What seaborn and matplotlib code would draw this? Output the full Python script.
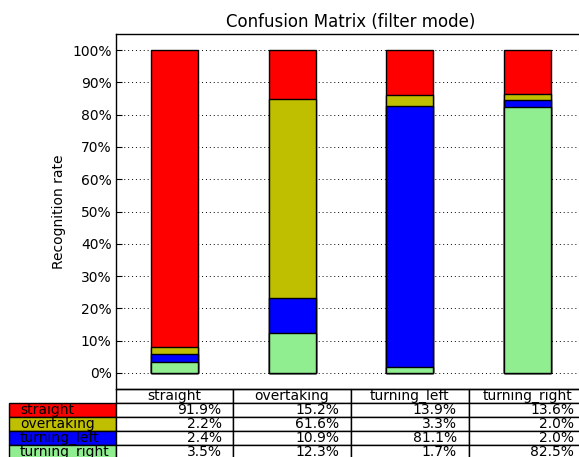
import matplotlib
matplotlib.use("Agg")
import matplotlib.pyplot as plt
import seaborn as sns
import numpy as np

# true classes (columns) and predicted classes (stack segments / table rows)
classes = ["straight", "overtaking", "turning_left", "turning_right"]
straight = [91.9, 15.2, 13.9, 13.6]
overtaking = [2.2, 61.6, 3.3, 2.0]
turning_left = [2.4, 10.9, 81.1, 2.0]
turning_right = [3.5, 12.3, 1.7, 82.5]
colors = ["#ff0000", "#bfbf00", "#0000ff", "#90ee90"]

rows = [straight, overtaking, turning_left, turning_right]

fig = plt.figure(figsize=(5.79, 4.57), dpi=100)
ax = fig.add_axes([115.7 / 579, 68 / 457, 470.4 / 579, 355 / 457])

# stacked bars: draw cumulative totals from the top segment down
stack = np.array(rows)
for i in range(len(rows)):
    cum = stack[i:].sum(axis=0)
    sns.barplot(x=classes, y=cum, color=colors[i], saturation=1, width=0.4,
                edgecolor="black", linewidth=1, ax=ax)

ax.set_xlim(-0.5, 3.5)
ax.set_ylim(-5, 105)
ax.set_yticks(range(0, 101, 10))
ax.set_yticklabels(["%d%%" % v for v in range(0, 101, 10)])
ax.set_xticks([])
ax.set_xlabel("")
ax.set_ylabel("Recognition rate", fontsize=10)
ax.set_title("Confusion Matrix (filter mode)", fontsize=12, pad=5)
ax.tick_params(axis="y", direction="in", length=4, pad=3, labelsize=10)
ax.set_axisbelow(True)
ax.yaxis.grid(True, linestyle=(0, (1, 3)), color="black", linewidth=0.7)
for s in ax.spines.values():
    s.set_linewidth(1)
    s.set_color("black")

# table under the axes (bbox covers the data cells, row labels hang left)
h = 14 / 355
w_lab = 106.4 / 470.4
cell_text = [["%.1f%%" % v for v in r] for r in rows]
tbl = ax.table(cellText=cell_text, colLabels=classes, cellLoc="right",
               colLoc="center", bbox=[0, -5 * h, 1, 5 * h])
for i, lab in enumerate(classes):
    tbl.add_cell(i + 1, -1, width=w_lab, height=h, text=lab, loc="left",
                 facecolor=colors[i])
for (r, c), cell in tbl.get_celld().items():
    cell.set_height(h)
    cell.set_width(w_lab if c == -1 else 0.25)
    cell.set_linewidth(1)
tbl.auto_set_font_size(False)
tbl.set_fontsize(10)

fig.savefig("out.png", dpi=100)
